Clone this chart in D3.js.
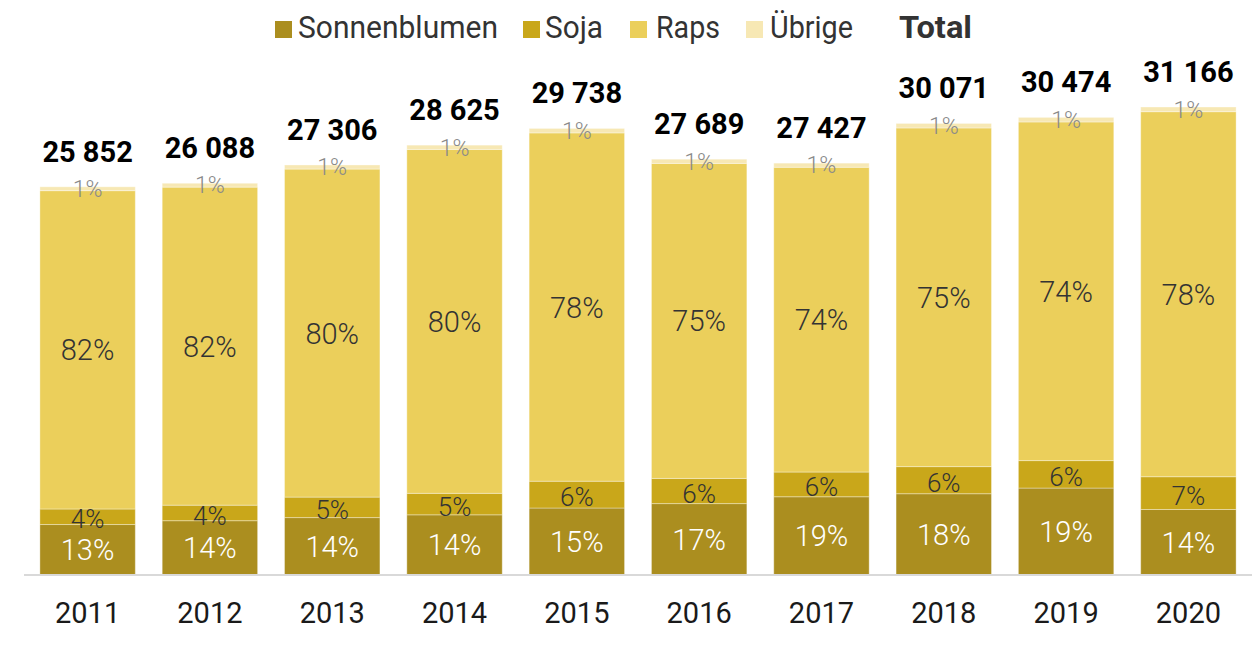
<!DOCTYPE html>
<meta charset="utf-8" />
<style>
  body { margin: 0; background: #fff; }
  svg { font-family: Roboto, "Noto Sans", sans-serif; }
  .seg rect { stroke: rgba(255, 255, 255, 0.35); stroke-width: 1px; }
</style>
<svg width="1260" height="654"></svg>
<script src="https://d3js.org/d3.v7.min.js"></script>
<script>
  /* global d3 */

  var years = ["2011", "2012", "2013", "2014", "2015", "2016", "2017", "2018", "2019", "2020"];
  var totals = [25852, 26088, 27306, 28625, 29738, 27689, 27427, 30071, 30474, 31166];
  // shares in percent, as written on the bars
  var sonnenblumen = [13, 14, 14, 14, 15, 17, 19, 18, 19, 14];
  var soja = [4, 4, 5, 5, 6, 6, 6, 6, 6, 7];
  var raps = [82, 82, 80, 80, 78, 75, 74, 75, 74, 78];
  var uebrige = [1, 1, 1, 1, 1, 1, 1, 1, 1, 1];

  var seriesNames = ["Sonnenblumen", "Soja", "Raps", "Übrige"];
  var seriesValues = [sonnenblumen, soja, raps, uebrige];
  var colors = ["#ab8e1f", "#c9a71a", "#ebcf5b", "#f7e8b4"];
  var labelColors = ["#ffffff", "#333333", "#333333", "#8a8a8a"];

  var svg = d3.select("svg");

  // rows: one per year, values in tonnes split by share
  var rows = years.map(function (y, i) {
    var sum = d3.sum(seriesValues, function (s) { return s[i]; });
    var row = { year: y, total: totals[i] };
    seriesNames.forEach(function (name, j) {
      row[name] = totals[i] * seriesValues[j][i] / sum;
      row[name + "_pct"] = seriesValues[j][i];
    });
    return row;
  });

  var stack = d3.stack().keys(seriesNames)(rows);

  var x = d3.scaleBand().domain(years).range([24, 1252])
    .paddingInner(0.22).paddingOuter(0.13);
  var y = d3.scaleLinear().domain([0, 31166]).range([575, 107]);

  // bars
  var g = svg.append("g");
  var layer = g.selectAll("g.seg").data(stack).enter().append("g")
    .attr("class", "seg")
    .attr("fill", function (d, i) { return colors[i]; });

  layer.selectAll("rect").data(function (d) { return d; }).enter().append("rect")
    .attr("x", function (d) { return x(d.data.year); })
    .attr("width", x.bandwidth())
    .attr("y", function (d) { return y(d[1]); })
    .attr("height", function (d) { return y(d[0]) - y(d[1]); });

  // segment labels
  var fontSizes = [29, 26, 29, 23];
  var labels = svg.append("g");
  stack.forEach(function (s, i) {
    labels.selectAll(null).data(s).enter().append("text")
      .attr("x", function (d) { return x(d.data.year) + x.bandwidth() / 2; })
      .attr("y", function (d) { return (y(d[0]) + y(d[1])) / 2; })
      .attr("dy", i === 1 ? "0.45em" : "0.36em")
      .attr("text-anchor", "middle")
      .attr("font-size", fontSizes[i])
      .attr("font-weight", 300)
      .attr("fill", labelColors[i])
      .text(function (d) { return d.data[s.key + "_pct"] + "%"; });
  });

  // totals
  svg.append("g").selectAll("text").data(rows).enter().append("text")
    .attr("x", function (d) { return x(d.year) + x.bandwidth() / 2; })
    .attr("y", function (d) { return y(d.total) - 25; })
    .attr("text-anchor", "middle")
    .attr("font-size", 29)
    .attr("font-weight", "bold")
    .attr("fill", "#000")
    .text(function (d) { return d3.format(",")(d.total).replace(",", " "); });

  // axis
  var xAxis = svg.append("g")
    .attr("transform", "translate(0,575)")
    .call(d3.axisBottom(x).tickSize(0).tickPadding(27));
  xAxis.select(".domain").attr("stroke", "#d9d9d9").attr("stroke-width", 2)
    .attr("d", "M24,0H1252");
  xAxis.selectAll("text")
    .attr("font-size", 29)
    .attr("font-family", "Roboto, sans-serif")
    .attr("fill", "#1a1a1a");

  // legend, text fitted to the widths seen in the reference
  var legendX = [275, 523, 630, 746];
  var legendTextX = [298, 545, 656, 770];
  var legendW = [200, 58, 64, 83];
  var legend = svg.append("g");

  function fitted(px, text, w, bold) {
    var t = legend.append("text")
      .attr("font-size", 31)
      .attr("font-weight", bold ? "bold" : null)
      .attr("fill", "#333")
      .text(text);
    var len = t.node().getComputedTextLength();
    t.attr("transform", "translate(" + px + ",38) scale(" + (w / len) + ",1)");
  }

  seriesNames.forEach(function (name, i) {
    legend.append("rect")
      .attr("x", legendX[i]).attr("y", 21)
      .attr("width", 17).attr("height", 17)
      .attr("fill", colors[i]);
    fitted(legendTextX[i], name, legendW[i], false);
  });
  fitted(899, "Total", 73, true);
</script>
